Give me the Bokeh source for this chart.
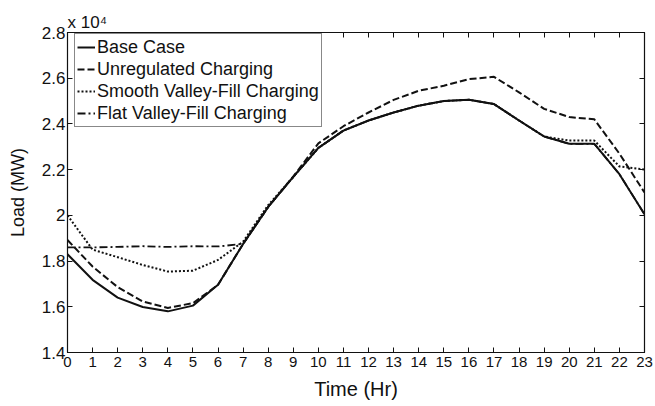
from bokeh.plotting import figure
from bokeh.models import LinearAxis, FixedTicker, Legend, LegendItem, Title, Range1d
from bokeh.embed import file_html
from bokeh.resources import INLINE

hours = list(range(24))
base_case = [18300, 17180, 16400, 15990, 15800, 16050, 16960, 18750, 20370, 21680,
             22950, 23710, 24150, 24500, 24800, 25000, 25060, 24870, 24150, 23450,
             23130, 23130, 21800, 20050]
unregulated = [18920, 17760, 16860, 16230, 15950, 16160, 16960, 18750, 20370, 21700,
               23150, 23900, 24500, 25050, 25450, 25670, 25960, 26060, 25380, 24660,
               24300, 24200, 22700, 21000]
smooth_vf = [20000, 18500, 18170, 17830, 17540, 17580, 18050, 18850, 20450, 21680,
             22950, 23710, 24150, 24500, 24800, 25000, 25060, 24870, 24150, 23450,
             23270, 23270, 22140, 22000]
flat_vf = [18600, 18600, 18620, 18650, 18620, 18650, 18640, 18750, 20370, 21680,
           22950, 23710, 24150, 24500, 24800, 25000, 25060, 24870, 24150, 23450,
           23130, 23130, 21800, 20050]
y_ticks = [14000, 16000, 18000, 20000, 22000, 24000, 26000, 28000]
y_tick_labels = ["1.4", "1.6", "1.8", "2", "2.2", "2.4", "2.6", "2.8"]
legend_labels = ["Base Case", "Unregulated Charging", "Smooth Valley-Fill Charging",
                 "Flat Valley-Fill Charging"]

FONT = "Liberation Sans"
INK = "#111111"

p = figure(width=653, height=402, output_backend="svg", toolbar_location=None,
           x_range=Range1d(0, 23), y_range=Range1d(14000, 28000),
           min_border_left=67, min_border_right=9, min_border_top=32, min_border_bottom=49)
p.background_fill_color = "white"
p.border_fill_color = "white"
p.outline_line_color = INK
p.outline_line_width = 1.2
p.xgrid.visible = False
p.ygrid.visible = False

lw = 2.0
r0 = p.line(hours, base_case, line_color=INK, line_width=lw)
r1 = p.line(hours, unregulated, line_color=INK, line_width=lw, line_dash="7 3")
r2 = p.line(hours, smooth_vf, line_color=INK, line_width=lw, line_dash="2 2")
r3 = p.line(hours, flat_vf, line_color=INK, line_width=1.8, line_dash="8 3 2 3")

xt = FixedTicker(ticks=hours, minor_ticks=[])
yt = FixedTicker(ticks=y_ticks, minor_ticks=[])
overrides = {t: l for t, l in zip(y_ticks, y_tick_labels)}

def style(ax, size=None):
    ax.axis_line_color = INK
    ax.major_tick_line_color = INK
    ax.major_tick_in = 5
    ax.major_tick_out = 0
    ax.minor_tick_line_color = None
    ax.major_label_text_font = FONT
    if size:
        ax.major_label_text_font_size = size
        ax.major_label_text_color = INK
    else:
        ax.major_label_text_font_size = "1px"
        ax.major_label_text_color = None
        ax.major_label_standoff = 0

xa = p.xaxis[0]
xa.ticker = xt
style(xa, "15px")
xa.major_label_standoff = 4
xa.axis_label = "Time (Hr)"
xa.axis_label_text_font = FONT
xa.axis_label_text_font_size = "20px"
xa.axis_label_text_font_style = "normal"
xa.axis_label_text_color = INK
xa.axis_label_standoff = 8

ya = p.yaxis[0]
ya.ticker = yt
ya.major_label_overrides = overrides
style(ya, "17px")
ya.major_label_standoff = 2
ya.axis_label = "Load (MW)"
ya.axis_label_text_font = FONT
ya.axis_label_text_font_size = "18px"
ya.axis_label_text_font_style = "normal"
ya.axis_label_text_color = INK
ya.axis_label_standoff = 11

top = LinearAxis(ticker=xt)
style(top)
p.add_layout(top, "above")
right = LinearAxis(ticker=yt)
style(right)
p.add_layout(right, "right")

legend = Legend(items=[LegendItem(label=l, renderers=[r]) for l, r in
                       zip(legend_labels, [r0, r1, r2, r3])],
                location=(7, 225))
legend.margin = 0
legend.padding = 2
legend.spacing = 0
legend.glyph_width = 18
legend.glyph_height = 22
legend.label_height = 22
legend.label_standoff = 2
legend.label_text_font = FONT
legend.label_text_font_size = "18px"
legend.label_text_color = INK
legend.border_line_color = INK
legend.border_line_width = 1
legend.background_fill_color = "white"
legend.background_fill_alpha = 1
p.add_layout(legend)

p.add_layout(Title(text="x 10\u2074", align="left", offset=0, standoff=1,
                   text_font=FONT, text_font_size="17px", text_font_style="normal",
                   text_color=INK), "above")

open("out.html", "w").write(file_html(p, INLINE))
